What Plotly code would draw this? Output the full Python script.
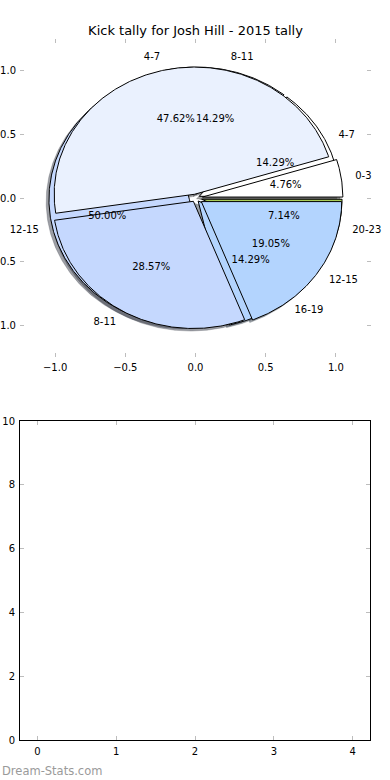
import numpy as np
import plotly.graph_objects as go

# ---------------- data ----------------
title = "Kick tally for Josh Hill - 2015 tally"
labels_a = ["0-3", "4-7", "8-11", "12-15"]
values_a = [1, 10, 6, 4]
labels_b = ["4-7", "8-11", "12-15", "16-19", "20-23"]
values_b = [2, 2, 7, 2, 1]
slice_colors = ["#ffffff", "#eaf1fe", "#c5d8fe", "#b3d4fe", "#a9cc55"]
explode_a = [0.05, 0.03, 0.03, 0.05]
explode_b = [0.03, 0.03, 0.045, 0.03, 0.045]
pie_ticks = [-1.0, -0.5, 0.0, 0.5, 1.0]
bar_xticks = [0, 1, 2, 3, 4]
bar_yticks = [0, 2, 4, 6, 8, 10]
watermark = "Dream-Stats.com"

FONT = "DejaVu Sans"


def hex_rgb(h):
    h = h.lstrip("#")
    return [int(h[i:i + 2], 16) for i in (0, 2, 4)]


def make_wedges(values, explode, labels):
    total = float(sum(values))
    out = []
    t = 0.0
    for i, (v, e, lab) in enumerate(zip(values, explode, labels)):
        t1 = t
        t2 = t + 360.0 * v / total
        t = t2
        tm = np.radians((t1 + t2) / 2.0)
        cx, cy = e * np.cos(tm), e * np.sin(tm)
        ang = np.radians(np.linspace(t1, t2, max(int(t2 - t1) * 2, 4)))
        xs = np.concatenate([[cx], cx + np.cos(ang), [cx]])
        ys = np.concatenate([[cy], cy + np.sin(ang), [cy]])
        out.append(dict(xs=xs, ys=ys, cx=cx, cy=cy, tm=tm, frac=v / total,
                        color=slice_colors[i % len(slice_colors)], label=lab))
    return out


wa = make_wedges(values_a, explode_a, labels_a)
wb = make_wedges(values_b, explode_b, labels_b)

fig = go.Figure()

# shadows (drawn below all wedges)
for w in wb + wa:
    r, g, b = hex_rgb(w["color"])
    sc = "rgba(%d,%d,%d,0.5)" % (0.3 * r, 0.3 * g, 0.3 * b)
    fig.add_trace(go.Scatter(x=w["xs"] - 0.02, y=w["ys"] - 0.02, mode="lines",
                             fill="toself", fillcolor=sc,
                             line=dict(color=sc, width=0.5),
                             hoverinfo="skip", showlegend=False,
                             xaxis="x", yaxis="y"))

# wedges: second pie below, first pie on top
for w in wb + wa:
    fig.add_trace(go.Scatter(x=w["xs"], y=w["ys"], mode="lines",
                             fill="toself", fillcolor=w["color"],
                             line=dict(color="black", width=1),
                             hoverinfo="skip", showlegend=False,
                             xaxis="x", yaxis="y"))

# texts
for ws in (wb, wa):
    lx, ly, lt, lp = [], [], [], []
    px, py, pt = [], [], []
    for w in ws:
        xt = w["cx"] + 1.1 * np.cos(w["tm"])
        yt = w["cy"] + 1.1 * np.sin(w["tm"])
        lx.append(xt)
        ly.append(yt)
        lt.append(w["label"])
        lp.append("middle right" if xt > 0 else "middle left")
        px.append(w["cx"] + 0.6 * np.cos(w["tm"]))
        py.append(w["cy"] + 0.6 * np.sin(w["tm"]))
        pt.append("%.2f%%" % (100 * w["frac"]))
    fig.add_trace(go.Scatter(x=lx, y=ly, mode="text", text=lt, textposition=lp,
                             textfont=dict(family=FONT, size=10, color="black"),
                             hoverinfo="skip", showlegend=False, cliponaxis=False,
                             xaxis="x", yaxis="y"))
    fig.add_trace(go.Scatter(x=px, y=py, mode="text", text=pt,
                             textposition="middle center",
                             textfont=dict(family=FONT, size=10, color="black"),
                             hoverinfo="skip", showlegend=False, cliponaxis=False,
                             xaxis="x", yaxis="y"))

# empty second axes
fig.add_trace(go.Scatter(x=[], y=[], mode="markers", showlegend=False,
                         xaxis="x2", yaxis="y2"))

tickfont = dict(family=FONT, size=10, color="black")
common = dict(ticks="inside", ticklen=4, tickwidth=1, tickcolor="#bdbdbd",
              showgrid=False, zeroline=False, tickfont=tickfont,
              fixedrange=True, mirror="ticks", automargin=False)

fig.update_layout(
    width=390, height=780, autosize=False,
    margin=dict(l=0, r=0, t=0, b=0, pad=0, autoexpand=False),
    paper_bgcolor="white", plot_bgcolor="rgba(0,0,0,0)",
    showlegend=False,
    title=dict(text=title, x=195.5 / 390, y=1 - 30 / 780,
               xanchor="center", yanchor="middle", xref="paper", yref="paper",
               automargin=False,
               font=dict(family=FONT, size=13, color="black")),
    xaxis=dict(domain=[20 / 390, 371 / 390], range=[-1.25, 1.25],
               tickvals=pie_ticks, tickformat=".1f", showline=False,
               anchor="y", ticklabelstandoff=3, **common),
    yaxis=dict(domain=[1 - 357 / 780, 1 - 39 / 780], range=[-1.25, 1.25],
               tickvals=pie_ticks, tickformat=".1f", showline=False,
               anchor="x", ticklabelstandoff=3, **common),
    xaxis2=dict(domain=[20 / 390, 370 / 390], range=[-0.22, 4.22],
                tickvals=bar_xticks, showline=True, linecolor="black",
                linewidth=1, anchor="y2", ticklabelstandoff=2, **common),
    yaxis2=dict(domain=[1 - 740 / 780, 1 - 421 / 780], range=[0, 10],
                tickvals=bar_yticks, showline=True, linecolor="black",
                linewidth=1, anchor="x2", ticklabelstandoff=2, **common),
    annotations=[dict(text=watermark, x=0, y=1 - 771 / 780, xref="paper",
                      yref="paper", xanchor="left", yanchor="middle",
                      showarrow=False,
                      font=dict(family=FONT, size=11.5, color="#9a9a9a"))],
)

fig.write_html("out.html",
               config={"displayModeBar": False, "staticPlot": True},
               post_script="document.body.style.margin='0px';"
                           "document.body.style.overflow='hidden';")
